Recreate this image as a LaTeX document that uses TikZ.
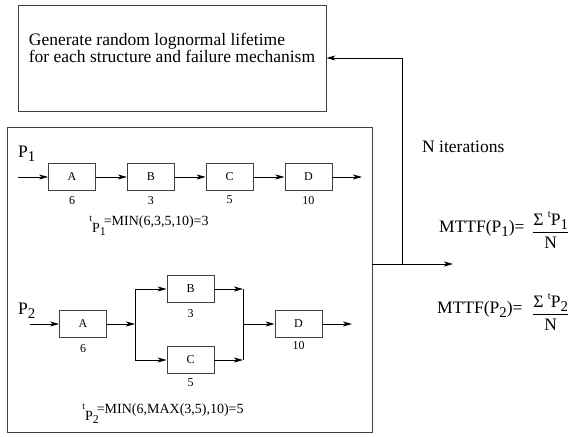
\documentclass[tikz,border=0pt]{standalone}
\usepackage{fontspec}
\usepackage{graphicx}
\setmainfont{Liberation Serif}
\usetikzlibrary{positioning,arrows.meta}

\newcommand{\lowsub}[1]{\raisebox{-0.5ex}{\scalebox{0.85}{#1}}}
\newcommand{\tvar}[1]{\raisebox{0.6ex}{\scalebox{0.7}{t}}\raisebox{-7pt}{P\lowsub{#1}}\kern-2pt}

\begin{document}
\begin{tikzpicture}[x=1pt,y=-1pt,node distance=31pt]
	\tikzstyle{frame}=[draw=black!75, line width=0.9pt, inner sep=0pt]
	\tikzstyle{block}=[draw=black!75, line width=0.8pt, minimum width=47pt, minimum height=27pt, inner sep=0pt, font=\fontsize{12}{14}\selectfont]
	\tikzstyle{num}=[inner sep=0pt, font=\fontsize{12}{14}\selectfont]
	\tikzstyle{pathname}=[inner sep=0pt, font=\fontsize{17.5}{18}\selectfont]
	\tikzstyle{formula}=[inner sep=0pt, font=\fontsize{14}{16}\selectfont]
	\tikzstyle{flow}=[->, >={Stealth[length=9pt,width=5pt,inset=2.5pt]}, line width=0.8pt]
	\tikzstyle{link}=[line width=0.8pt]

	\useasboundingbox (0,0) rectangle (580,436);

	% generator and simulation boxes
	\node (gen) [frame, minimum width=308pt, minimum height=106pt] at (172,58) {};
	\node (gentext) [align=left, inner sep=0pt, font=\fontsize{17.5}{15.5}\selectfont] at ([yshift=10pt]gen.center) {Generate random lognormal lifetime\\for each structure and failure mechanism};
	\node (sim) [frame, minimum width=365pt, minimum height=305pt] at (189.5,279.5) {};

	% path P1: series
	\node (p1) [pathname, anchor=base west] at (18,157) {P\lowsub{1}};
	\node (a1) [block] at (72,177) {A};
	\node (b1) [block, right=of a1] {B};
	\node (c1) [block, right=of b1] {C};
	\node (d1) [block, right=of c1] {D};
	\node (na1) [num, below=5pt of a1] {6};
	\node (nb1) [num, below=5pt of b1] {3};
	\node (nc1) [num, below=5pt of c1] {5};
	\node (nd1) [num, below=5pt of d1] {10};
	\coordinate (in1) at (18,177);
	\coordinate (out1) at (362,177);
	\draw[flow] (in1) -- (a1);
	\draw[flow] (a1) -- (b1);
	\draw[flow] (b1) -- (c1);
	\draw[flow] (c1) -- (d1);
	\draw[flow] (d1) -- (out1);
	\node (t1) [formula, anchor=base] at (149,225) {\tvar{1}=MIN(6,3,5,10)=3};

	% path P2: B and C in parallel
	\node (p2) [pathname, anchor=base west] at (18,314) {P\lowsub{2}};
	\node (a2) [block] at (83,324) {A};
	\node (b2) [block] at (190.5,289) {B};
	\node (c2) [block] at (190.5,360) {C};
	\node (d2) [block] at (298.5,324) {D};
	\node (na2) [num, below=6pt of a2] {6};
	\node (nb2) [num, below=6pt of b2] {3};
	\node (nc2) [num, below=5pt of c2] {5};
	\node (nd2) [num, below=3pt of d2] {10};
	\coordinate (in2) at (30,324);
	\coordinate (split) at (135,324);
	\coordinate (join) at (243,324);
	\coordinate (out2) at (352,324);
	\draw[flow] (in2) -- (a2);
	\draw[flow] (a2) -- (split);
	\draw[flow] (split) |- (b2);
	\draw[flow] (split) |- (c2);
	\draw[flow] (b2) -- (b2 -| join);
	\draw[flow] (c2) -- (c2 -| join);
	\draw[link] (b2 -| join) -- (c2 -| join);
	\draw[flow] (join) -- (d2);
	\draw[flow] (d2) -- (out2);
	\node (t2) [formula, anchor=base] at (163,413) {\tvar{2}=MIN(6,MAX(3,5),10)=5};

	% loop and result
	\coordinate (junc) at (402,264);
	\coordinate (res) at (453,264);
	\draw[flow] (sim.east |- junc) -- (res);
	\draw[flow] (junc) |- (gen);
	\node (iter) [pathname, anchor=base west] at (422,152) {N iterations};
	\node (m1) [pathname, anchor=base west] at (439,232) {MTTF(P\lowsub{1})=};
	\node (f1) [pathname, anchor=base west] at (532,237) {$\displaystyle\frac{\mbox{Σ \raisebox{1ex}{\scalebox{0.6}{t}}P\lowsub{1}}}{\mbox{N}}$};
	\node (m2) [pathname, anchor=base west] at (437,313) {MTTF(P\lowsub{2})=};
	\node (f2) [pathname, anchor=base west] at (532,319) {$\displaystyle\frac{\mbox{Σ \raisebox{1ex}{\scalebox{0.6}{t}}P\lowsub{2}}}{\mbox{N}}$};
\end{tikzpicture}
\end{document}
